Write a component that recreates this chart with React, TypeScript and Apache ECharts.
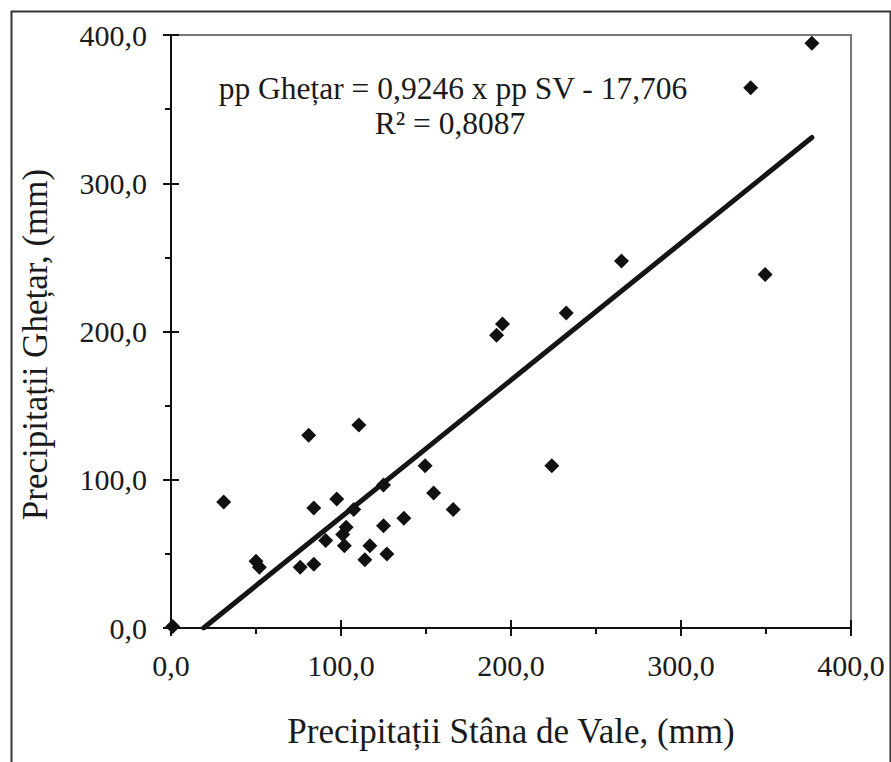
import React, { useEffect, useRef } from "react";
import * as echarts from "echarts";

// Observed data: precipitation at Stâna de Vale (x) vs. Ghețar (y), mm
const svValues: number[] = [1, 31, 50, 52, 76, 84, 81, 84, 91, 97.5, 101, 103, 102, 107.5, 110.5, 114, 117, 125, 125, 127, 137, 149.5, 154.5, 166, 191.5, 195, 224, 232.5, 265, 341, 349.5, 377];
const ghetarValues: number[] = [1, 85, 45, 41, 41, 43, 130, 81, 59, 87, 63, 68, 55.5, 80, 137, 46, 55.5, 96.5, 69, 50, 74, 109.5, 91, 80, 197.5, 205, 109.5, 212.5, 247.5, 364.5, 238.5, 394.5];

// Regression
const slope = 0.9246;
const intercept = -17.706;
const rSquared = 0.8087;

// Axes
const axisMin = 0;
const axisMax = 400;
const axisInterval = 100;
const tickLabels: string[] = ["0,0", "100,0", "200,0", "300,0", "400,0"];

const xTitle = "Precipitații Stâna de Vale, (mm)";
const yTitle = "Precipitații Ghețar, (mm)";

const fmt = (v: number, d: number) => v.toFixed(d).replace(".", ",");

export default function App() {
  const ref = useRef<HTMLDivElement>(null);
  useEffect(() => {
    document.body.style.margin = "0";
    if (!ref.current) return;
    const chart = echarts.init(ref.current, undefined, { renderer: "svg" });
    const serif = "Liberation Serif";
    const points = svValues.map((x, i) => [x, ghetarValues[i]]);
    const xStart = -intercept / slope;
    const xEnd = Math.max(...svValues);
    const trend = [
      [xStart, slope * xStart + intercept],
      [xEnd, slope * xEnd + intercept],
    ];
    const labelFor = (v: number) => tickLabels[Math.round((v - axisMin) / axisInterval)] ?? "";
    const baseAxis = {
      type: "value",
      min: axisMin,
      max: axisMax,
      interval: axisInterval,
      splitLine: { show: false },
    };
    const option: any = {
      animation: false,
      backgroundColor: "#ffffff",
      grid: {
        left: 171,
        top: 35,
        right: 40,
        bottom: 134,
        show: true,
        borderColor: "#777777",
        borderWidth: 2,
        backgroundColor: "transparent",
      },
      xAxis: [
        {
          ...baseAxis,
          position: "bottom",
          axisLine: { show: true, onZero: false, lineStyle: { color: "#111", width: 2 } },
          axisTick: { show: true, length: 8, lineStyle: { color: "#111", width: 2 } },
          minorTick: { show: true, splitNumber: 2, length: 6, lineStyle: { color: "#111", width: 2 } },
          axisLabel: {
            margin: 22,
            fontFamily: serif,
            fontSize: 30,
            color: "#1a1a1a",
            formatter: labelFor,
          },
          name: xTitle,
          nameLocation: "middle",
          nameGap: 86,
          nameTextStyle: { fontFamily: serif, fontSize: 35, color: "#1a1a1a" },
        },
        {
          ...baseAxis,
          position: "bottom",
          axisLine: { show: false },
          axisTick: { show: true, inside: true, length: 8, lineStyle: { color: "#111", width: 2 } },
          axisLabel: { show: false },
        },
      ],
      yAxis: [
        {
          ...baseAxis,
          position: "left",
          axisLine: { show: true, onZero: false, lineStyle: { color: "#111", width: 2 } },
          axisTick: { show: true, length: 8, lineStyle: { color: "#111", width: 2 } },
          minorTick: { show: true, splitNumber: 2, length: 6, lineStyle: { color: "#111", width: 2 } },
          axisLabel: {
            margin: 24,
            fontFamily: serif,
            fontSize: 30,
            color: "#1a1a1a",
            formatter: labelFor,
          },
          name: yTitle,
          nameLocation: "middle",
          nameGap: 118,
          nameTextStyle: { fontFamily: serif, fontSize: 35, color: "#1a1a1a", padding: [0, 26, 0, 0] },
        },
        {
          ...baseAxis,
          position: "left",
          axisLine: { show: false },
          axisTick: { show: true, inside: true, length: 8, lineStyle: { color: "#111", width: 2 } },
          axisLabel: { show: false },
        },
      ],
      graphic: [
        {
          type: "rect",
          left: 9,
          top: 9,
          shape: { x: 0, y: 0, width: 879, height: 820 },
          style: { fill: "none", stroke: "#333", lineWidth: 2 },
          silent: true,
          z: 0,
        },
        {
          type: "text",
          x: 453,
          y: 88,
          style: {
            text: `pp Ghețar = ${fmt(slope, 4)} x pp SV - ${fmt(-intercept, 3)}`,
            fontFamily: serif,
            fontSize: 31.5,
            fill: "#1a1a1a",
            align: "center",
            verticalAlign: "middle",
          },
          z: 10,
        },
        {
          type: "text",
          x: 450,
          y: 123,
          style: {
            text: `R² = ${fmt(rSquared, 4)}`,
            fontFamily: serif,
            fontSize: 31.5,
            fill: "#1a1a1a",
            align: "center",
            verticalAlign: "middle",
          },
          z: 10,
        },
      ],
      series: [
        {
          type: "line",
          data: trend,
          xAxisIndex: 0,
          yAxisIndex: 0,
          showSymbol: false,
          symbol: "none",
          lineStyle: { color: "#151515", width: 5, cap: "round" },
          z: 2,
        },
        {
          type: "scatter",
          data: points,
          xAxisIndex: 0,
          yAxisIndex: 0,
          symbol: "diamond",
          symbolSize: 15,
          itemStyle: { color: "#111", opacity: 1 },
          z: 3,
        },
      ],
    };
    chart.setOption(option);
    return () => chart.dispose();
  }, []);
  return <div ref={ref} style={{ width: 891, height: 762 }} />;
}
